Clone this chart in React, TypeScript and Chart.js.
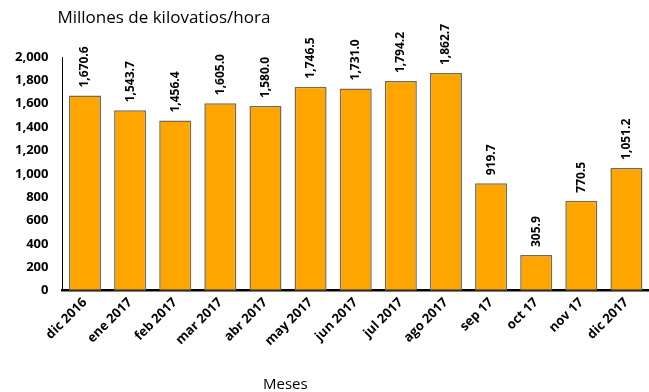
import React, { useEffect, useRef } from "react";
import { Chart, registerables } from "chart.js";

Chart.register(...registerables);

const categories = [
  "dic 2016", "ene 2017", "feb 2017", "mar 2017", "abr 2017", "may 2017",
  "jun 2017", "jul 2017", "ago 2017", "sep 17", "oct 17", "nov 17", "dic 2017",
];
const values = [1670.6, 1543.7, 1456.4, 1605.0, 1580.0, 1746.5, 1731.0, 1794.2, 1862.7, 919.7, 305.9, 770.5, 1051.2];
const yTitle = "Millones de kilovatios/hora";
const xTitle = "Meses";

const FONT = "'Open Sans', Lato, sans-serif";

const fmt = (v: number, d: number) =>
  v.toLocaleString("en-US", { minimumFractionDigits: d, maximumFractionDigits: d });

const labelsPlugin = {
  id: "barLabels",
  afterDatasetsDraw(chart: any) {
    const ctx = chart.ctx;
    const meta = chart.getDatasetMeta(0);
    ctx.save();
    ctx.fillStyle = "#000";
    ctx.font = `bold 12px ${FONT}`;
    ctx.textAlign = "left";
    ctx.textBaseline = "middle";
    meta.data.forEach((el: any, i: number) => {
      ctx.save();
      ctx.translate(el.x, el.y - 8);
      ctx.rotate(-Math.PI / 2);
      ctx.fillText(fmt(values[i], 1), 0, 0);
      ctx.restore();
    });
    ctx.restore();
  },
};

const titlesPlugin = {
  id: "titles",
  afterDraw(chart: any) {
    const ctx = chart.ctx;
    const area = chart.chartArea;
    ctx.save();
    ctx.fillStyle = "#000";
    ctx.textBaseline = "middle";
    ctx.font = `17px ${FONT}`;
    ctx.textAlign = "left";
    ctx.fillText(yTitle, area.left - 5, 18);
    ctx.font = `15px ${FONT}`;
    ctx.textAlign = "center";
    ctx.fillText(xTitle, area.left + (area.right - area.left) * 0.38, chart.height - 7);
    ctx.restore();
  },
};

export default function App() {
  const ref = useRef<HTMLCanvasElement>(null);
  useEffect(() => {
    document.body.style.margin = "0";
    const chart = new Chart(ref.current!, {
      type: "bar",
      data: {
        labels: categories,
        datasets: [
          {
            data: values,
            backgroundColor: "#FFA500",
            borderColor: "#776a4e",
            borderWidth: 1.5,
            borderSkipped: false,
            categoryPercentage: 1,
            barPercentage: 0.71,
          },
        ],
      },
      options: {
        animation: false,
        responsive: false,
        layout: { padding: { top: 57, right: -7, left: 1, bottom: 39 } },
        plugins: { legend: { display: false }, tooltip: { enabled: false }, title: { display: false } },
        scales: {
          x: {
            grid: { display: false, drawTicks: false },
            border: { display: true, color: "#000", width: 2.5 },
            ticks: {
              color: "#000",
              font: { family: FONT, size: 13, weight: "bold" },
              maxRotation: 45,
              minRotation: 45,
              padding: 4,
            },
          },
          y: {
            min: 0,
            max: 2000,
            grid: { display: false, drawTicks: false },
            border: { display: true, color: "#000", width: 1 },
            ticks: {
              stepSize: 200,
              color: "#000",
              padding: 14,
              font: { family: FONT, size: 13, weight: "bold" },
              callback: (v: any) => fmt(Number(v), 0),
            },
          },
        },
      },
      plugins: [labelsPlugin, titlesPlugin],
    });
    return () => chart.destroy();
  }, []);
  return (
    <div style={{ width: 649, height: 392 }}>
      <canvas ref={ref} width={649} height={392} />
    </div>
  );
}
